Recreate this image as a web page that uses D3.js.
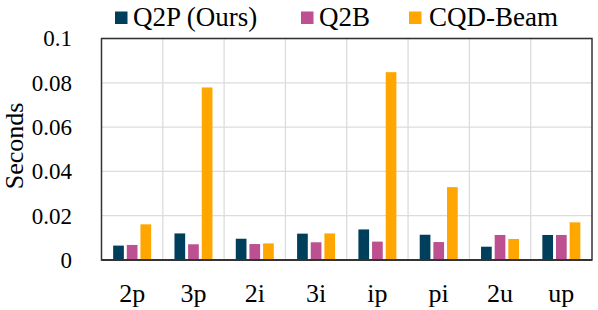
<!DOCTYPE html>
<html><head><meta charset="utf-8">
<script src="https://cdn.jsdelivr.net/npm/d3@7"></script>
<style>body{margin:0;background:#fff}svg{display:block}text{font-family:"Liberation Serif","Times New Roman",serif;fill:#000}</style>
</head><body><svg id="c" width="598" height="310"></svg>
<script>
const categories = ["2p","3p","2i","3i","ip","pi","2u","up"];
const seriesNames = ["Q2P (Ours)","Q2B","CQD-Beam"];
const q2p  = [0.0065,0.0120,0.0096,0.0119,0.0138,0.0114,0.0060,0.0113];
const q2b  = [0.0068,0.0071,0.0072,0.0080,0.0083,0.0081,0.0113,0.0113];
const cqd  = [0.0161,0.0779,0.0075,0.0120,0.0848,0.0329,0.0095,0.0170];
const colors = ["#003f5c","#bc5090","#ffa600"];
const yTicks = [0,0.02,0.04,0.06,0.08,0.1];
const yTickLabels = ["0","0.02","0.04","0.06","0.08","0.1"];

const svg = d3.select("#c");
const L=101.5, R=592, T=38.5, B=260;
const x = d3.scaleBand().domain(categories).range([L,R]);
const y = d3.scaleLinear().domain([0,0.1]).range([B,T]);
const groupW = 38;
const xs = d3.scaleBand().domain(seriesNames).range([0,groupW]).paddingInner(0.216);
const vals = [q2p,q2b,cqd];

// grid
const g = svg.append("g");
g.selectAll("line.h").data(yTicks).join("line")
  .attr("x1",L).attr("x2",R).attr("y1",d=>y(d)).attr("y2",d=>y(d))
  .attr("stroke","#dcdcdc").attr("stroke-width",1.3);
g.selectAll("line.v").data(categories.slice(1)).join("line")
  .attr("x1",d=>x(d)).attr("x2",d=>x(d)).attr("y1",T).attr("y2",B)
  .attr("stroke","#dcdcdc").attr("stroke-width",1.3);

// bars
seriesNames.forEach((s,si)=>{
  svg.append("g").selectAll("rect").data(categories).join("rect")
    .attr("x",(c)=>x(c)+(x.bandwidth()-groupW)/2+xs(s))
    .attr("width",xs.bandwidth())
    .attr("y",(c,i)=>y(vals[si][i]))
    .attr("height",(c,i)=>B-y(vals[si][i]))
    .attr("fill",colors[si]);
});

// frame
svg.append("rect").attr("x",L).attr("y",T).attr("width",R-L).attr("height",B-T)
  .attr("fill","none").attr("stroke","#333").attr("stroke-width",1.5);
svg.append("line").attr("x1",L).attr("x2",R).attr("y1",B).attr("y2",B).attr("stroke","#333").attr("stroke-width",2);

// y axis labels
const ya = d3.axisLeft(y).tickValues(yTicks).tickFormat((d,i)=>yTickLabels[i]).tickSize(0).tickPadding(0);
const yg = svg.append("g").attr("transform",`translate(72,0)`).call(ya);
yg.select(".domain").remove();
yg.selectAll("text").style("font-size","23px").attr("font-family","Liberation Serif").attr("fill","#000");

// x axis labels
const xa = d3.axisBottom(x).tickSize(0).tickPadding(0);
const xg = svg.append("g").attr("transform",`translate(0,${302-0.71*26})`).call(xa);
xg.select(".domain").remove();
xg.selectAll("text").style("font-size","26px").attr("font-family","Liberation Serif").attr("fill","#000");

svg.append("text").attr("transform",`translate(22.5,146) rotate(-90)`)
  .attr("text-anchor","middle").style("font-size","26px").text("Seconds");

// legend
const legX = [115,301,409];
const legTX = [133,319,429];
seriesNames.forEach((s,i)=>{
  svg.append("rect").attr("x",legX[i]).attr("y",11.5).attr("width",12.5).attr("height",12.5).attr("fill",colors[i]);
  svg.append("text").attr("x",legTX[i]).attr("y",25.5).style("font-size","27px").text(s);
});
</script></body></html>
